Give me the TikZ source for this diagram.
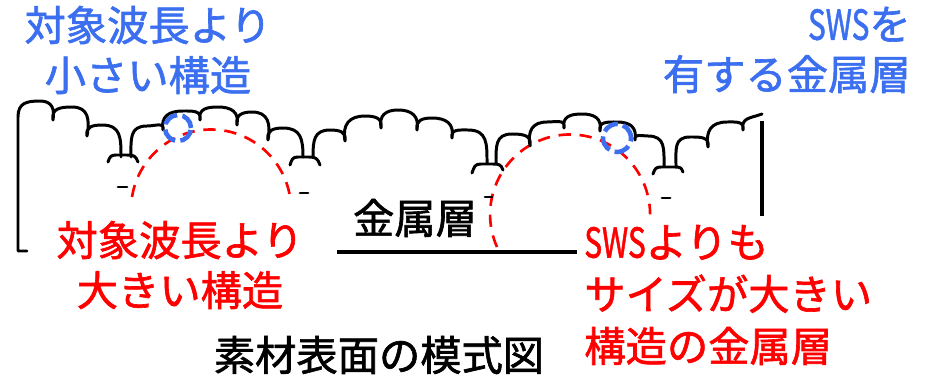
\documentclass[tikz,border=0pt]{standalone}
\usepackage{fontspec}
\setmainfont{Noto Sans CJK JP}[UprightFeatures={FakeBold=1.5}]
\usepackage{graphicx}
\usepackage{tikz}
\usetikzlibrary{positioning}
\definecolor{swsblue}{RGB}{59,111,240}
\newcommand{\SWS}{\scalebox{0.72}[1]{SWS}}
\tikzstyle{LABEL} = [inner sep=0pt, font=\fontsize{23.5}{28.5}\selectfont]

\begin{document}
\begin{tikzpicture}[x=0.02cm, y=0.02cm]
% Define
\tikzstyle{CLOUD} = [line width=1.7pt, line cap=round, line join=round, looseness=1.3]
\tikzstyle{EDGE} = [line width=2pt]
\tikzstyle{BLUECIRCLE} = [draw=swsblue, line width=2.6pt, dash pattern=on 9pt off 3pt]
\tikzstyle{REDARC} = [draw=red, line width=1.5pt, dash pattern=on 7pt off 5pt]
\useasboundingbox (0,0) rectangle (928,379);
% Red structures (bigger than the wavelength)
\draw [REDARC] (132,182) arc[start angle=171, end angle=9, radius=80];
\draw [REDARC] (497,132) arc[start angle=204, end angle=0, radius=80];
% Metal layer outline
\draw [EDGE] (337,127) -- (577,127);
\draw [EDGE] (762,258) -- (762,163);
% Cloud surface
\draw [CLOUD] (27,128) -- (18,128) -- (18,262) to[out=90,in=180] (40,278) to[out=0,in=80] (53,259)
  to[out=100,in=180] (72,272) to[out=0,in=80] (87,243)
  to[out=100,in=180] (102,254) to[out=0,in=90] (121,222);
\draw [CLOUD] (131,222) to[out=90,in=180] (147,253) to[out=0,in=80] (163,249)
  to[out=100,in=180] (183,268) to[out=0,in=80] (200,259)
  to[out=100,in=180] (218,272) to[out=0,in=80] (237,254)
  to[out=100,in=180] (252,267) to[out=0,in=80] (268,239)
  to[out=100,in=180] (283,251) to[out=0,in=90] (303,222);
\draw [CLOUD] (313,222) to[out=90,in=180] (330,249) to[out=0,in=80] (345,238)
  to[out=100,in=180] (365,263) to[out=0,in=80] (381,251)
  to[out=100,in=180] (398,269) to[out=0,in=80] (417,249)
  to[out=100,in=180] (432,261) to[out=0,in=80] (452,241)
  to[out=100,in=180] (468,249) to[out=0,in=90] (487,216);
\draw [CLOUD] (496,216) to[out=90,in=180] (512,245) to[out=0,in=80] (530,233)
  to[out=100,in=180] (547,257) to[out=0,in=80] (564,251)
  to[out=100,in=180] (582,265) to[out=0,in=80] (600,248)
  to[out=100,in=180] (617,257) to[out=0,in=80] (635,239)
  to[out=100,in=180] (648,243) to[out=0,in=90] (664,213);
\draw [CLOUD] (676,213) to[out=90,in=180] (690,242) to[out=0,in=80] (708,232)
  to[out=100,in=180] (727,257) to[out=0,in=80] (743,249)
  to[out=100,in=200] (762,265);
% Feet under the cusps
\draw [CLOUD] (108,217) to[out=70,in=180] (116,224) -- (127,224) to[out=0,in=110] (138,217);
\draw [CLOUD] (290,214) to[out=70,in=180] (298,222) -- (309,222) to[out=0,in=110] (320,214);
\draw [CLOUD] (472,206) to[out=70,in=180] (481,215) -- (493,215) to[out=0,in=110] (503,209);
\draw [CLOUD] (653,205) to[out=70,in=180] (661,212) -- (675,212) to[out=0,in=110] (683,207);
\draw [CLOUD] (118,192) -- (127,192);
\draw [CLOUD] (300,186) -- (308,186);
\draw [CLOUD] (485,182) -- (492,182);
\draw [CLOUD] (662,181) -- (670,181);
% Blue structures (smaller than the wavelength)
\draw [BLUECIRCLE] (178,251) circle[radius=13];
\draw [BLUECIRCLE] (617,241) circle[radius=14];
% Place labels
\node [LABEL, text=swsblue, align=center] (small) at (148,329) {対象波長より\\小さい構造};
\node [LABEL, text=swsblue, align=right, anchor=east] (sws) at (911,329) {\SWS を\\有する金属層};
\node [LABEL] (metal) at (415,161) {金属層};
\node [LABEL, text=red, align=center] (large) at (180,114) {対象波長より\\大きい構造};
\node [LABEL, text=red, align=left, anchor=west, font=\fontsize{23.5}{29.6}\selectfont] (bigsws) at (584,84) {\SWS よりも\\サイズが大きい\\構造の金属層};
\node [LABEL] (caption) at (379,24) {素材表面の模式図};
\end{tikzpicture}
\end{document}
